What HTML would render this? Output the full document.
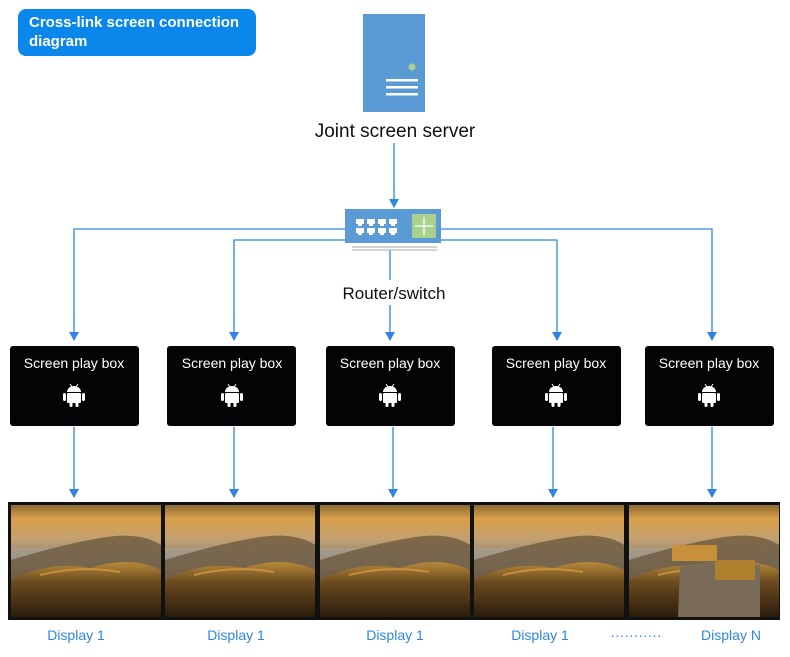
<!DOCTYPE html>
<html><head><meta charset="utf-8"><style>
body{margin:0;background:#fff;width:790px;height:652px;overflow:hidden;font-family:"Liberation Sans",sans-serif}
</style></head><body>
<svg width="790" height="652" xmlns="http://www.w3.org/2000/svg">
<defs>
<marker id="a" markerWidth="10" markerHeight="10" refX="5" refY="8" orient="0" markerUnits="userSpaceOnUse"><path d="M0,0 L10,0 L5,9 Z" fill="#2f86e0"/></marker>
<linearGradient id="sky" x1="0" y1="0" x2="0" y2="1">
<stop offset="0" stop-color="#8a6a34"/><stop offset="0.12" stop-color="#d8a048"/><stop offset="0.3" stop-color="#c4a070"/><stop offset="0.5" stop-color="#8a8478"/><stop offset="1" stop-color="#5d5a52"/></linearGradient>
<linearGradient id="hill" x1="0" y1="0" x2="0" y2="1">
<stop offset="0" stop-color="#b88a3a"/><stop offset="0.35" stop-color="#6e4c20"/><stop offset="1" stop-color="#2a1c0c"/></linearGradient>
</defs>
<rect x="18" y="9" width="238" height="47" rx="8" fill="#0b87ec"/>
<text x="29" y="27" fill="#fff" font-weight="bold" font-size="15">Cross-link screen connection</text>
<text x="29" y="46" fill="#fff" font-weight="bold" font-size="15">diagram</text>
<rect x="363" y="14" width="62" height="98" fill="#5b9bd5"/>
<circle cx="412" cy="67" r="3.5" fill="#a9d18e"/>
<rect x="386" y="79" width="32" height="2.5" fill="#fff"/><rect x="386" y="86" width="32" height="2.5" fill="#fff"/><rect x="386" y="93" width="32" height="2.5" fill="#fff"/>
<text x="395" y="137" font-size="19" text-anchor="middle" fill="#111">Joint screen server</text>
<g stroke="#2f86e0" stroke-width="1.3" fill="none">
<line x1="394" y1="143" x2="394" y2="207" marker-end="url(#a)"/>
<polyline points="345,229 74,229 74,340" marker-end="url(#a)"/>
<polyline points="441,229 712,229 712,340" marker-end="url(#a)"/>
<polyline points="345,240 234,240 234,340" marker-end="url(#a)"/>
<polyline points="441,240 557,240 557,340" marker-end="url(#a)"/>
<line x1="390" y1="250" x2="390" y2="280"/>
<line x1="390" y1="305" x2="390" y2="340" marker-end="url(#a)"/>
<line x1="74" y1="427" x2="74" y2="497" marker-end="url(#a)"/>
<line x1="234" y1="427" x2="234" y2="497" marker-end="url(#a)"/>
<line x1="393" y1="427" x2="393" y2="497" marker-end="url(#a)"/>
<line x1="553" y1="427" x2="553" y2="497" marker-end="url(#a)"/>
<line x1="712" y1="427" x2="712" y2="497" marker-end="url(#a)"/>
</g>
<rect x="345" y="209" width="96" height="34" fill="#5b9bd5"/>
<line x1="352" y1="247" x2="437" y2="247" stroke="#aaa" stroke-width="1"/>
<line x1="352" y1="250" x2="437" y2="250" stroke="#aaa" stroke-width="1"/>
<g fill="#fff"><path d="M356,219 h8 v5 h-2 v2 h-4 v-2 h-2z"/><path d="M367,219 h8 v5 h-2 v2 h-4 v-2 h-2z"/><path d="M378,219 h8 v5 h-2 v2 h-4 v-2 h-2z"/><path d="M389,219 h8 v5 h-2 v2 h-4 v-2 h-2z"/>
<path d="M356,228 h8 v5 h-2 v2 h-4 v-2 h-2z"/><path d="M367,228 h8 v5 h-2 v2 h-4 v-2 h-2z"/><path d="M378,228 h8 v5 h-2 v2 h-4 v-2 h-2z"/><path d="M389,228 h8 v5 h-2 v2 h-4 v-2 h-2z"/></g>
<rect x="412" y="214" width="24" height="24" fill="#a9d18e"/>
<g stroke="#fff" stroke-width="1.3"><line x1="424" y1="217" x2="424" y2="235"/><line x1="415" y1="226" x2="433" y2="226"/></g>
<text x="394" y="299" font-size="17" text-anchor="middle" fill="#111">Router/switch</text>
<g font-size="14" fill="#fff" text-anchor="middle">
<rect x="10" y="346" width="129" height="80" rx="3" fill="#020406"/><text x="74" y="368">Screen play box</text>
<rect x="167" y="346" width="129" height="80" rx="3" fill="#020406"/><text x="232" y="368">Screen play box</text>
<rect x="326" y="346" width="129" height="80" rx="3" fill="#020406"/><text x="390" y="368">Screen play box</text>
<rect x="492" y="346" width="129" height="80" rx="3" fill="#020406"/><text x="556" y="368">Screen play box</text>
<rect x="645" y="346" width="129" height="80" rx="3" fill="#020406"/><text x="709" y="368">Screen play box</text>
</g>
<g fill="#fff">
<g id="and" transform="translate(74,396)"><path d="M-7,-4 a7,6 0 0 1 14,0 z"/><rect x="-7" y="-3" width="14" height="10" rx="1"/><rect x="-11" y="-3" width="3" height="8" rx="1.5"/><rect x="8" y="-3" width="3" height="8" rx="1.5"/><rect x="-4.5" y="6" width="3" height="5" rx="1.5"/><rect x="1.5" y="6" width="3" height="5" rx="1.5"/><line x1="-4" y1="-12" x2="-2" y2="-9" stroke="#fff"/><line x1="4" y1="-12" x2="2" y2="-9" stroke="#fff"/></g>
<use href="#and" x="158"/><use href="#and" x="316"/><use href="#and" x="482"/><use href="#and" x="635"/>
</g>
<rect x="8" y="502" width="772" height="118" fill="#111"/>
<g id="p"><rect x="11" y="505" width="150" height="112" fill="url(#sky)"/>
<rect x="11" y="548" width="150" height="22" fill="#a8a498" opacity="0.5"/>
<path d="M11,560 Q60,545 100,538 T161,545 L161,617 L11,617 Z" fill="#6e5a3e" opacity="0.8"/>
<path d="M11,580 Q50,560 90,568 Q130,555 161,570 L161,617 L11,617 Z" fill="url(#hill)"/>
<path d="M40,575 Q80,565 120,572" stroke="#d8a048" stroke-width="2" fill="none" opacity="0.7"/></g>
<use href="#p" x="154"/><use href="#p" x="309"/><use href="#p" x="463"/><use href="#p" x="618"/>
<path d="M680,567 L720,560 L760,565 L760,617 L678,617 Z" fill="#7a6c58"/>
<rect x="672" y="545" width="45" height="16" fill="#c8903a"/>
<rect x="715" y="560" width="40" height="20" fill="#b0802e"/>
<g font-size="14" fill="#2f86e0" text-anchor="middle">
<text x="76" y="640">Display 1</text><text x="236" y="640">Display 1</text><text x="395" y="640">Display 1</text><text x="540" y="640">Display 1</text><text x="636" y="640">···········</text><text x="731" y="640">Display N</text>
</g>
</svg>
</body></html>
